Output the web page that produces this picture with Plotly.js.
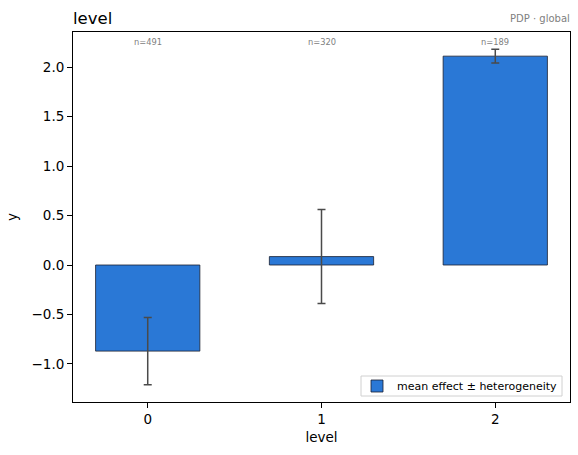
<!DOCTYPE html>
<html>
<head>
<meta charset="utf-8">
<script src="https://cdn.plot.ly/plotly-3.0.1.min.js"></script>
<style>html,body{margin:0;padding:0;background:#fff;}#chart{width:578px;height:455px;}</style>
</head>
<body>
<div id="chart"></div>
<script>
const levels = [0, 1, 2];
const meanEffect = [-0.87, 0.085, 2.11];
const heterogeneity = [0.34, 0.475, 0.07];
const counts = [491, 320, 189];
const tickVals = [-1.0, -0.5, 0.0, 0.5, 1.0, 1.5, 2.0];
const tickText = ["\u22121.0", "\u22120.5", "0.0", "0.5", "1.0", "1.5", "2.0"];

const font = "DejaVu Sans, sans-serif";

const trace = {
  type: 'bar',
  x: levels,
  y: meanEffect,
  width: 0.6,
  name: 'mean effect \u00b1 heterogeneity',
  marker: {color: '#2a78d6', line: {color: '#1a2030', width: 0.8}},
  error_y: {type: 'data', array: heterogeneity, visible: true, color: '#4a4a4a', thickness: 1.5, width: 4},
  showlegend: true
};

const annotations = levels.map((lv, i) => ({
  x: lv, xref: 'x', y: 0.973, yref: 'paper',
  text: 'n=' + counts[i], showarrow: false,
  font: {family: font, size: 8.3, color: '#808080'},
  xanchor: 'center', yanchor: 'middle'
}));
annotations.push({
  x: 1, xref: 'paper', y: 1.036, yref: 'paper',
  text: 'PDP \u00b7 global', showarrow: false,
  font: {family: font, size: 10, color: '#808080'},
  xanchor: 'right', yanchor: 'middle', xshift: 2
});

const layout = {
  width: 578, height: 455,
  margin: {l: 73, r: 8, t: 32, b: 53},
  paper_bgcolor: '#fff', plot_bgcolor: '#fff',
  font: {family: font, color: '#000'},
  title: {text: 'level', x: 73/578, xanchor: 'left', y: 1 - 24/455, yanchor: 'bottom',
          font: {family: font, size: 16.5, color: '#000'}},
  xaxis: {
    range: [-0.43, 2.43], tickvals: levels, ticktext: levels.map(String),
    showgrid: false, zeroline: false, showline: true, mirror: true,
    linecolor: '#000', linewidth: 1, ticks: 'outside', ticklen: 5, tickcolor: '#000',
    tickfont: {family: font, size: 13.5, color: '#000'},
    title: {text: 'level', font: {family: font, size: 13.5, color: '#000'}, standoff: 6}
  },
  yaxis: {
    range: [-1.384, 2.354], tickvals: tickVals, ticktext: tickText,
    showgrid: false, zeroline: false, showline: true, mirror: true,
    linecolor: '#000', linewidth: 1, ticks: 'outside', ticklen: 5, tickcolor: '#000',
    tickfont: {family: font, size: 13.5, color: '#000'},
    title: {text: 'y', font: {family: font, size: 13.5, color: '#000'}, standoff: 10}
  },
  legend: {
    x: (357 - 73) / 497, y: (402 - 386) / 370, xanchor: 'left', yanchor: 'middle',
    bgcolor: 'rgba(0,0,0,0)', borderwidth: 0,
    font: {family: font, size: 11, color: '#000'}
  },
  shapes: [{
    type: 'rect', xref: 'paper', yref: 'paper', layer: 'above',
    x0: (361 - 73) / 497, x1: (562 - 73) / 497,
    y0: (402 - 396) / 370, y1: (402 - 376) / 370,
    line: {color: '#d0d0d0', width: 1}, fillcolor: 'rgba(255,255,255,0.8)'
  }],
  annotations: annotations,
  showlegend: true
};

Plotly.newPlot('chart', [trace], layout, {displayModeBar: false, staticPlot: true});
</script>
</body>
</html>
